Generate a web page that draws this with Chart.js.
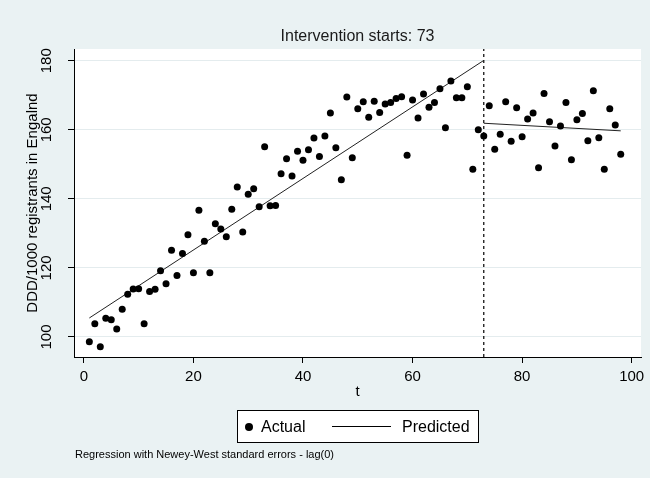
<!DOCTYPE html>
<html>
<head>
<meta charset="utf-8">
<script src="https://cdn.jsdelivr.net/npm/chart.js@4/dist/chart.umd.min.js"></script>
<style>
  body { margin: 0; background: #eaf2f3; }
  #wrap { position: relative; width: 650px; height: 478px; font-family: "Liberation Sans", Arial, sans-serif; color: #000; }
  #title { position: absolute; left: 74px; width: 567px; top: 26px; text-align: center; font-size: 16px; line-height: 20px; color: #1a1a1a; }
  #legend { position: absolute; left: 237px; top: 410px; width: 240px; height: 31px; background: #fff; border: 1px solid #000; font-size: 16px; }
  #legend span { position: absolute; }
  #legend .dot { left: 7px; top: 12px; width: 8px; height: 8px; border-radius: 50%; background: #000; }
  #legend .lbl { top: 6px; line-height: 20px; }
  #legend .ln { left: 94px; top: 15px; width: 59px; border-top: 1px solid #000; }
  #note { position: absolute; left: 75px; top: 447px; font-size: 11px; line-height: 14px; }
</style>
</head>
<body>
<div id="wrap">
  <canvas id="myChart" width="650" height="478"></canvas>
  <div id="title">Intervention starts: 73</div>
  <div id="legend">
    <span class="dot"></span><span class="lbl" style="left:23px">Actual</span>
    <span class="ln"></span><span class="lbl" style="left:164px">Predicted</span>
  </div>
  <div id="note">Regression with Newey-West standard errors - lag(0)</div>
</div>
<script>
// -------- Data --------
const tValues = [
   1,  2,  3,  4,  5,  6,  7,  8,  9, 10, 11, 12, 13, 14, 15, 16, 17, 18, 19, 20,
  21, 22, 23, 24, 25, 26, 27, 28, 29, 30, 31, 32, 33, 34, 35, 36, 37, 38, 39, 40,
  41, 42, 43, 44, 45, 46, 47, 48, 49, 50, 51, 52, 53, 54, 55, 56, 57, 58, 59, 60,
  61, 62, 63, 64, 65, 66, 67, 68, 69, 70, 71, 72, 73, 74, 75, 76, 77, 78, 79, 80,
  81, 82, 83, 84, 85, 86, 87, 88, 89, 90, 91, 92, 93, 94, 95, 96, 97, 98
];
const actualValues = [
   98.6, 103.8,  97.2, 105.4, 105.0, 102.3, 108.0, 112.4, 113.9, 114.0,
  103.8, 113.2, 113.8, 119.2, 115.4, 125.1, 117.8, 124.2, 129.6, 118.6,
  136.7, 127.7, 118.6, 132.8, 131.3, 129.0, 137.0, 143.4, 130.4, 141.3,
  142.9, 137.7, 155.1, 138.0, 138.1, 147.3, 151.6, 146.6, 153.8, 151.2,
  154.2, 157.6, 152.3, 158.2, 164.9, 154.8, 145.5, 169.5, 151.9, 166.1,
  168.1, 163.6, 168.3, 165.0, 167.5, 167.9, 169.1, 169.6, 152.6, 168.6,
  163.4, 170.4, 166.5, 167.9, 171.9, 160.6, 174.1, 169.3, 169.3, 172.5,
  148.6, 160.0, 158.2, 167.0, 154.4, 158.7, 168.1, 156.7, 166.4, 158.0,
  163.1, 164.9, 149.0, 170.5, 162.3, 155.3, 161.1, 167.9, 151.3, 162.9,
  164.7, 156.8, 171.3, 157.7, 148.6, 166.1, 161.4, 152.9
];

// predicted lines (straight segments before / after the intervention)
const predPreT = [1, 73];
const predPreV = [105.5, 180.1];
const predPostT = [73, 98];
const predPostV = [161.9, 159.7];

const interventionT = 73;
const xTicks = [0, 20, 40, 60, 80, 100];
const yTicks = [100, 120, 140, 160, 180];
const xMin = -1.8, xMax = 101.7;
const yMin = 94.2, yMax = 183.4;

// -------- Build datasets --------
const actualPts = tValues.map((t, i) => ({ x: t, y: actualValues[i] }));
const predPts = [
  ...predPreT.map((t, i) => ({ x: t, y: predPreV[i] })),
  { x: interventionT, y: null },
  ...predPostT.map((t, i) => ({ x: t, y: predPostV[i] }))
];
const vlinePts = [{ x: interventionT, y: yMin }, { x: interventionT, y: yMax }];

const FONT = '"Liberation Sans", Arial, sans-serif';

// white plot region
const plotBg = {
  id: 'plotBg',
  beforeDraw(chart) {
    const { ctx, chartArea: a } = chart;
    ctx.save();
    ctx.fillStyle = '#ffffff';
    ctx.fillRect(a.left, a.top, a.right - a.left, a.bottom - a.top);
    ctx.restore();
  }
};

const ctx = document.getElementById('myChart').getContext('2d');

new Chart(ctx, {
  type: 'scatter',
  data: {
    datasets: [
      {
        label: 'Actual',
        data: actualPts,
        backgroundColor: '#000',
        borderWidth: 0,
        pointRadius: 3.5,
        order: 0
      },
      {
        type: 'line',
        label: 'Predicted',
        data: predPts,
        borderColor: '#222',
        borderWidth: 1,
        pointRadius: 0,
        spanGaps: false,
        fill: false,
        order: 1
      },
      {
        type: 'line',
        label: 'intervention',
        data: vlinePts,
        borderColor: '#000',
        borderWidth: 1.2,
        borderDash: [3, 3],
        pointRadius: 0,
        fill: false,
        order: 2
      }
    ]
  },
  options: {
    responsive: false,
    animation: false,
    layout: { padding: { top: 49, right: 9, left: 0, bottom: 0 } },
    plugins: {
      legend: { display: false },
      tooltip: { enabled: false }
    },
    scales: {
      x: {
        type: 'linear',
        min: xMin,
        max: xMax,
        afterBuildTicks: s => { s.ticks = xTicks.map(v => ({ value: v })); },
        afterFit: s => { s.height = 121; },
        border: { display: true, color: '#000', width: 1 },
        grid: { drawOnChartArea: false, drawTicks: true, tickLength: 6, tickColor: '#000', color: '#000' },
        ticks: { color: '#000', padding: 5, font: { family: FONT, size: 15 }, maxRotation: 0 },
        title: { display: true, text: 't', color: '#000', font: { family: FONT, size: 15 }, padding: { top: 0, bottom: 77 } }
      },
      y: {
        min: yMin,
        max: yMax,
        afterBuildTicks: s => { s.ticks = yTicks.map(v => ({ value: v })); },
        afterFit: s => { s.width = 74; },
        border: { display: true, color: '#000', width: 1 },
        grid: { color: '#e4ecee', lineWidth: 1, drawTicks: true, tickLength: 6, tickColor: '#000' },
        ticks: {
          color: '#000', padding: 9, minRotation: 90, maxRotation: 90, crossAlign: 'center',
          font: { family: FONT, size: 15 }
        },
        title: {
          display: true, text: 'DDD/1000 registrants in Engalnd', color: '#000',
          font: { family: FONT, size: 15 }, padding: { top: 24, bottom: 0 }
        }
      }
    }
  },
  plugins: [plotBg]
});
</script>
</body>
</html>
